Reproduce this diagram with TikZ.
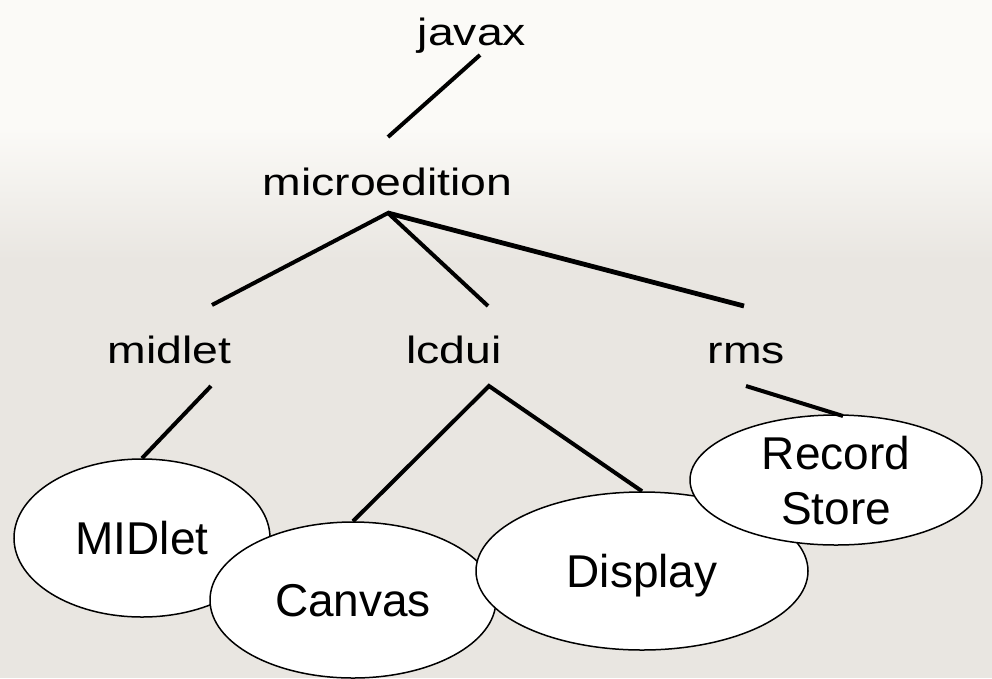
\documentclass[tikz,border=0pt]{standalone}
\usepackage{fontspec}
\setmainfont{Liberation Sans}
\usetikzlibrary{shapes.geometric,calc}
\definecolor{bgtop}{RGB}{251,250,247}
\definecolor{bgbottom}{RGB}{233,230,225}
\begin{document}
\begin{tikzpicture}[x=1pt,y=-1pt,
  lvl/.style={anchor=base,inner sep=0pt,font=\fontsize{38}{44}\selectfont},
  leaf/.style={ellipse,draw=black,line width=1.5pt,fill=white,inner sep=0pt,
    font=\fontsize{46}{55}\selectfont,text depth=0pt,align=center},
  conn/.style={line width=4pt,draw=black}]
\useasboundingbox (0,0) rectangle (992,678);
\fill[bgbottom] (0,0) rectangle (992,678);
\fill[bgtop] (0,0) rectangle (992,130);
\shade[top color=bgtop,bottom color=bgbottom] (0,129) rectangle (992,260);

% tree labels
\node[lvl] (javax) at (472,45) {\scalebox{1.22}[1]{javax}};
\node[lvl] (micro) at (387.5,195) {\scalebox{1.22}[1]{microedition}};
\node[lvl] (midlet) at (169.5,363) {\scalebox{1.22}[1]{midlet}};
\node[lvl] (lcdui) at (454,363) {\scalebox{1.22}[1]{lcdui}};
\node[lvl] (rms) at (746.5,363) {\scalebox{1.22}[1]{rms}};

% connector end points
\coordinate (j1) at (480,55);
\coordinate (m0) at (388,137);
\coordinate (m1) at (388,213);
\coordinate (d0) at (212,305);
\coordinate (l0) at (488,306);
\coordinate (r0) at (744,306);
\coordinate (d1) at (211,386);
\coordinate (l1) at (489,386);
\coordinate (r1) at (746,386);
\coordinate (r2) at (843,416);

% leaf ellipses
\node[leaf,minimum width=256pt,minimum height=158pt] (MIDlet) at (142,538) {MIDlet};
\node[leaf,minimum width=286pt,minimum height=156pt] (Canvas) at (353,600) {Canvas};
\node[leaf,minimum width=332pt,minimum height=158pt] (Display) at (642,571) {Display};
\node[leaf,minimum width=292pt,minimum height=130pt] (RS) at (836,480) {Record\\Store};

% connectors
\draw[conn] (j1) -- (m0);
\draw[conn] (d0) -- (m1) -- (l0);
\draw[conn,line width=4.8pt] (m1) -- (r0);
\draw[conn] (d1) -- (MIDlet.north);
\draw[conn] (Canvas.north) -- (l1) -- (Display.north);
\draw[conn] (r1) -- (r2);
\end{tikzpicture}
\end{document}
